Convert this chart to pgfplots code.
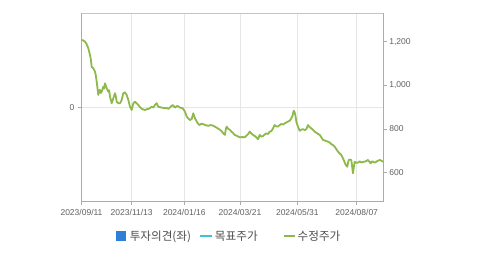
\documentclass[border=0pt]{standalone}
\usepackage{pgfplots}
\pgfplotsset{compat=1.18}
\usepackage{fontspec}
\setmainfont{Liberation Sans}
\newfontfamily\kr{Noto Sans CJK KR}
\definecolor{lg}{HTML}{8DB84A}
\definecolor{lb}{HTML}{2F7ED8}
\definecolor{lc}{HTML}{3CC3D8}
\definecolor{axg}{HTML}{ABABAB}
\definecolor{grd}{HTML}{E6E6E6}
\definecolor{txt}{HTML}{606060}
\begin{document}
\begin{tikzpicture}[x=1pt,y=1pt]
\useasboundingbox (0,0) rectangle (479,254);
\pgfplotsset{
  base/.style={
    at={(81.5pt,52.3pt)}, anchor=south west, scale only axis,
    width=301.8pt, height=188.4pt,
    xmin=0, xmax=301.8,
    tick label style={font=\fontsize{8.5}{10}\selectfont, text=txt},
    /pgf/number format/assume math mode=true,
    tick align=outside, major tick length=3.5pt,
    tick style={axg, line width=0.6pt},
  }
}
\begin{axis}[base,
  ymin=-1, ymax=1, ytick={0},
  axis x line*=bottom, axis y line*=left,
  x axis line style={-, axg, line width=1.4pt},
  y axis line style={-, axg, line width=0.8pt},
  xtick={0,50.2,102.8,158.5,215.8,275.2},
  xticklabels={2023/09/11,2023/11/13,2024/01/16,2024/03/21,2024/05/31,2024/08/07},
  xticklabel style={yshift=-1pt},
  xmajorgrids, ymajorgrids, grid style={grd, line width=0.7pt},
  legend columns=3,
  legend style={at={(0.49,-0.182)}, anchor=center, draw=none, fill=none,
    font=\kr\fontsize{11.6}{13}\selectfont, text=black!70,
    /tikz/every even column/.append style={column sep=6pt}},
  extra description/.code={\draw[axg!70, line width=0.8pt] (rel axis cs:0,1) -- (rel axis cs:1,1);},
]
\addlegendimage{legend image code/.code={\fill[lb] (0pt,-4.6pt) rectangle (9pt,4.4pt);}}
\addlegendentry{\hspace{2pt}투자의견(좌)}
\addlegendimage{legend image code/.code={\draw[lc, line width=2pt] (0pt,0pt) -- (12pt,0pt);}}
\addlegendentry{목표주가}
\addlegendimage{legend image code/.code={\path[draw=none, fill=none] (0pt,0pt) rectangle (18pt,0.1pt); \draw[lg, line width=2pt] (18pt,0pt) -- (29pt,0pt);}}
\addlegendentry{수정주가}
\end{axis}
\begin{axis}[base,
  ymin=467, ymax=1330, ytick={600,800,1000,1200},
  axis x line=none, axis y line*=right,
  y axis line style={-, axg, line width=0.8pt},
  /pgf/number format/1000 sep={,},
  yticklabel style={xshift=-1pt},
]
\addplot[lg, line width=1.8pt, line join=round] coordinates {
(0.2,1208) (2,1205) (3.5,1200) (5,1190) (6.8,1170) (8.5,1139) (9.3,1120) (10.2,1085) (11.8,1078) (13.5,1063)
(14.3,1045) (15.2,1017) (16.8,956) (17.6,975) (18.5,979) (19.3,965) (20.2,971) (21.8,994) (22.6,985) (23.5,1009) (25.2,987)
(26.8,971) (27.6,978) (28.5,948) (30.2,918) (31.8,941) (33.5,964) (34.3,950) (35.2,925) (36.8,918)
(38.5,918) (40.2,933) (41.8,964) (43.5,968) (45.2,956) (46.8,933) (48.5,902)
(50.2,887) (51.8,918) (53.5,925) (55,918) (56.8,910) (58.5,900) (60.2,892) (63.5,887) (65,890) (66.8,892)
(68.5,896) (70.2,902) (71.8,898) (73.5,910) (75.2,918) (76.8,902) (80.2,898) (83.5,895) (85,897) (86.8,892)
(89.2,902) (91.2,910) (93.5,898) (95.8,906) (98.5,898) (101.2,895) (103.5,879)
(105.2,857) (106.8,848) (108.5,841) (110.2,846) (111.8,872) (112.6,860) (113.5,849) (115.2,834) (116.5,825) (117.8,818)
(119.8,824) (121.8,822) (124.3,817) (126.8,815) (129.3,818) (131.8,815) (133.5,810) (135.2,806) (138.5,796) (140.1,790) (141.8,780) (143.5,773)
(144.3,800) (145.2,811) (146.8,800) (148.5,796) (149.8,788) (151.5,782) (153.2,773) (155.7,768) (158.2,762) (160.7,763) (163.2,762)
(165,770) (166.5,776) (168.2,788) (169.8,780) (171.5,773) (173.2,768) (174.8,762) (176.5,753) (178.2,773) (179.8,765) (181.5,768)
(183.2,775) (184.8,780) (186.5,777) (188.2,788) (189.8,790) (191.5,803) (193.2,818) (194.8,812) (196.5,811) (198.2,818) (199.8,823) (201.5,820) (203.2,826)
(204.8,830) (206.5,834) (208.2,838) (209.8,849) (211,860) (212.2,884) (213,878) (213.8,864) (215,830) (216.5,811) (218.2,792) (219.8,797) (221.5,799)
(223.2,795) (224.8,799) (226.5,818) (228.2,808) (229.8,803) (231.5,796) (233.2,788) (235.7,780) (238.2,773) (239.8,762) (241.5,750) (244,746) (246.5,742)
(248.2,738) (249.8,731) (251.5,726) (253.2,719) (254.8,708) (256.5,696) (258.2,688) (259.8,681) (261.2,668) (262.5,655) (263.8,640) (264.8,632) (265.8,627)
(266.5,645) (267.2,658) (268.5,660) (269.8,658) (270.6,630) (271.5,597) (272.3,625) (273.2,650) (274.8,645) (276.5,646) (278.2,652) (279.8,646) (281.5,649) (283.2,650)
(284.8,654) (286.5,658) (287.8,650) (289.2,643) (290.3,652) (291.5,650) (293.2,646) (294.8,650) (296.5,655) (298.2,658) (299.8,655) (301.5,650)
};
\end{axis}
\end{tikzpicture}
\end{document}
